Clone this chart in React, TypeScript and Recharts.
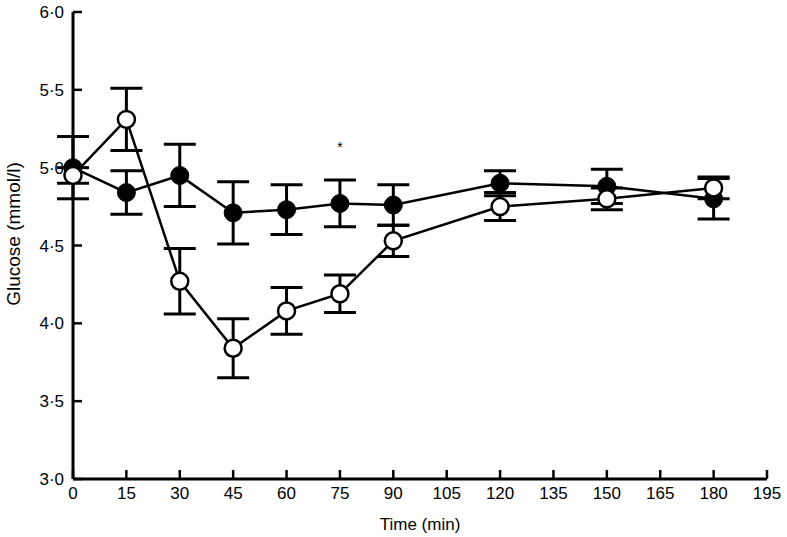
import React from "react";
import {
  LineChart,
  Line,
  XAxis,
  YAxis,
  ErrorBar,
  ReferenceDot,
} from "recharts";

// sampling times (min)
const times = [0, 15, 30, 45, 60, 75, 90, 120, 150, 180];
// filled circles
const filledMean = [5.0, 4.84, 4.95, 4.71, 4.73, 4.77, 4.76, 4.9, 4.88, 4.8];
const filledErr = [0.2, 0.14, 0.2, 0.2, 0.16, 0.15, 0.13, 0.08, 0.11, 0.13];
// open circles
const openMean = [4.95, 5.31, 4.27, 3.84, 4.08, 4.19, 4.53, 4.75, 4.8, 4.87];
const openErr = [0.05, 0.2, 0.21, 0.19, 0.15, 0.12, 0.1, 0.09, 0.07, 0.07];

const xTicks = [0, 15, 30, 45, 60, 75, 90, 105, 120, 135, 150, 165, 180, 195];
const yTicks = [3, 3.5, 4, 4.5, 5, 5.5, 6];
const starAt = { time: 75, y: 5.13 };

const data = times.map((t, i) => ({
  time: t,
  filled: filledMean[i],
  filledErr: filledErr[i],
  open: openMean[i],
  openErr: openErr[i],
}));

const fmt = (v: number) => v.toFixed(1).replace(".", "·");
const font = "'Liberation Sans', Arial, sans-serif";

// rotated y label, placed a bit above the plot middle like the original
const YLabel = () => (
  <text
    x={13}
    y={234}
    transform="rotate(-90 13 234)"
    textAnchor="middle"
    dominantBaseline="central"
    fill="#000"
    fontSize={19}
    fontFamily={font}
  >
    Glucose (mmol/l)
  </text>
);

export default function App() {
  return (
    <div style={{ position: "absolute", left: 0, top: 0, background: "#fff" }}>
      <LineChart
        width={787}
        height={537}
        data={data}
        margin={{ top: 12, right: 20, bottom: 0, left: 0 }}
        style={{ fontFamily: font, fontSize: 17 }}
      >
        <XAxis
          dataKey="time"
          type="number"
          domain={[0, 195]}
          ticks={xTicks}
          height={58}
          tickSize={-9}
          tickMargin={17}
          axisLine={{ stroke: "#000", strokeWidth: 3 }}
          tickLine={{ stroke: "#000", strokeWidth: 2.5 }}
          tick={{ fill: "#000", fontSize: 17 }}
          label={{
            value: "Time (min)",
            position: "insideBottom",
            offset: 7,
            fill: "#000",
            fontSize: 17,
          }}
        />
        <YAxis
          type="number"
          domain={[3, 6]}
          ticks={yTicks}
          width={73}
          tickSize={-9}
          tickMargin={18}
          tickFormatter={fmt}
          axisLine={{ stroke: "#000", strokeWidth: 3 }}
          tickLine={{ stroke: "#000", strokeWidth: 2.5 }}
          tick={{ fill: "#000", fontSize: 17 }}
          label={<YLabel />}
        />
        <Line
          dataKey="filled"
          stroke="#000"
          strokeWidth={2.5}
          isAnimationActive={false}
          dot={{ r: 9, fill: "#000", stroke: "#000", strokeWidth: 1 }}
          activeDot={false}
        >
          <ErrorBar dataKey="filledErr" width={16} stroke="#000" strokeWidth={3} direction="y" />
        </Line>
        <Line
          dataKey="open"
          stroke="#000"
          strokeWidth={2.5}
          isAnimationActive={false}
          dot={{ r: 8.5, fill: "#fff", stroke: "#000", strokeWidth: 2.5 }}
          activeDot={false}
        >
          <ErrorBar dataKey="openErr" width={16} stroke="#000" strokeWidth={3} direction="y" />
        </Line>
        <ReferenceDot
          x={starAt.time}
          y={starAt.y}
          r={0}
          stroke="none"
          label={{ value: "*", position: "center", fill: "#000", fontSize: 14 }}
        />
      </LineChart>
    </div>
  );
}
